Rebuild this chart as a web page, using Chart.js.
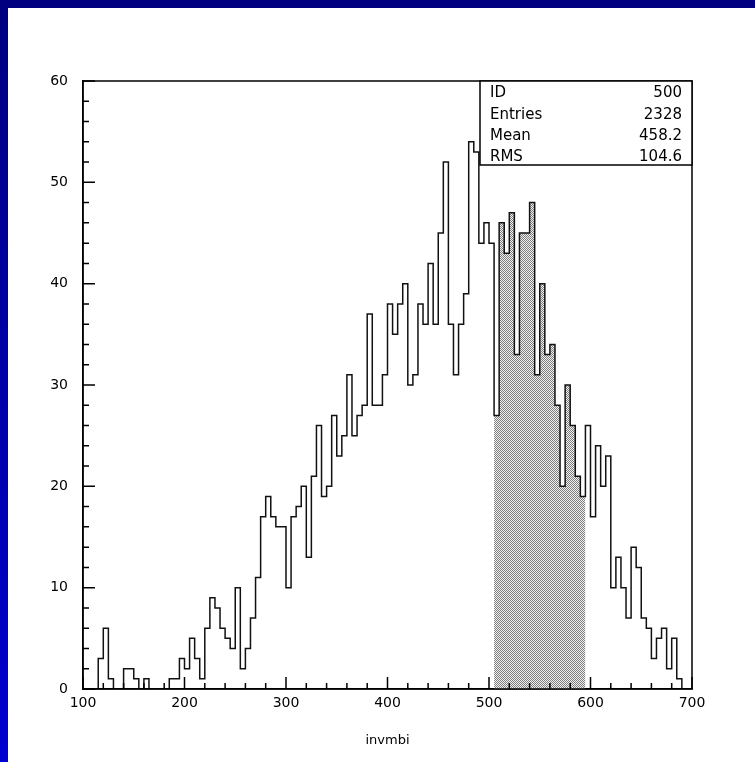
<!DOCTYPE html>
<html>
<head>
<meta charset="utf-8">
<script src="https://cdn.jsdelivr.net/npm/chart.js@4.4.0/dist/chart.umd.min.js"></script>
<style>
  html, body { margin: 0; padding: 0; background: #fff; }
  #wrap { width: 755px; height: 762px; position: relative; }
</style>
</head>
<body>
<div id="wrap"><canvas id="histo"></canvas></div>
<script>
// invmbi histogram, 120 bins of width 5 between 100 and 700
var binLow = 100;
var binHigh = 700;
var binWidth = 5;
var counts = [
  0, 0, 0, 3, 6, 1, 0, 0, 2, 2,
  1, 0, 1, 0, 0, 0, 0, 1, 1, 3,
  2, 5, 3, 1, 6, 9, 8, 6, 5, 4,
  10, 2, 4, 7, 11, 17, 19, 17, 16, 16,
  10, 17, 18, 20, 13, 21, 26, 19, 20, 27,
  23, 25, 31, 25, 27, 28, 37, 28, 28, 31,
  38, 35, 38, 40, 30, 31, 38, 36, 42, 36,
  45, 52, 36, 31, 36, 39, 54, 53, 44, 46,
  44, 27, 46, 43, 47, 33, 45, 45, 48, 31,
  40, 33, 34, 28, 20, 30, 26, 21, 19, 26,
  17, 24, 20, 23, 10, 13, 10, 7, 14, 12,
  7, 6, 3, 5, 6, 2, 5, 1, 0, 0
];
// shaded window
var shadeLow = 505;
var shadeHigh = 595;

var xTitle = "invmbi";
var statNames = ["ID", "Entries", "Mean", "RMS"];
var statValues = ["500", "2328", "458.2", "104.6"];

var FONT = "'DejaVu Sans', sans-serif";

// step outline points: left edge of each bin, closed down to zero at both ends
function stepPoints(lo, hi) {
  var pts = [{x: lo, y: 0}];
  var last = 0;
  for (var i = 0; i < counts.length; i++) {
    var x = binLow + i * binWidth;
    if (x < lo || x >= hi) continue;
    pts.push({x: x, y: counts[i]});
    last = counts[i];
  }
  pts.push({x: hi, y: last});
  pts.push({x: hi, y: 0});
  return pts;
}

// fine dot pattern for the shaded window
function dotPattern() {
  var c = document.createElement("canvas");
  c.width = 2; c.height = 2;
  var g = c.getContext("2d");
  g.fillStyle = "#f2f2f2";
  g.fillRect(0, 0, 2, 2);
  g.fillStyle = "#7c7c7c";
  g.fillRect(0, 0, 1, 1);
  g.fillRect(1, 1, 1, 1);
  return g.createPattern(c, "repeat");
}

var decor = {
  id: "decor",
  beforeDraw: function(chart) {
    var ctx = chart.ctx;
    ctx.save();
    ctx.fillStyle = "#ffffff";
    ctx.fillRect(0, 0, chart.width, chart.height);
    var grad = ctx.createLinearGradient(0, 0, 0, chart.height);
    grad.addColorStop(0, "#000080");
    grad.addColorStop(1, "#0000d0");
    ctx.fillStyle = grad;
    ctx.fillRect(0, 0, 8, chart.height);
    ctx.fillStyle = "#000080";
    ctx.fillRect(0, 0, chart.width, 8);
    ctx.restore();
  },
  afterDraw: function(chart) {
    var ctx = chart.ctx;
    var a = chart.chartArea;
    var xs = chart.scales.x, ys = chart.scales.y;
    ctx.save();
    ctx.strokeStyle = "#000";
    ctx.lineWidth = 1.5;
    ctx.beginPath();
    // inward tick marks
    for (var v = binLow; v <= binHigh; v += 20) {
      var px = xs.getPixelForValue(v);
      var len = (v % 100 === 0) ? 12 : 6;
      ctx.moveTo(px, a.bottom);
      ctx.lineTo(px, a.bottom - len);
    }
    for (var w = 0; w <= 60; w += 2) {
      var py = ys.getPixelForValue(w);
      var l2 = (w % 10 === 0) ? 12 : 6;
      ctx.moveTo(a.left, py);
      ctx.lineTo(a.left + l2, py);
    }
    ctx.stroke();
    ctx.strokeRect(a.left, a.top, a.right - a.left, a.bottom - a.top);

    // statistics box
    var bx = a.right - 212, by = a.top, bh = 84;
    ctx.fillStyle = "#fff";
    ctx.fillRect(bx, by, a.right - bx, bh);
    ctx.strokeRect(bx, by, a.right - bx, bh);
    ctx.fillStyle = "#000";
    ctx.font = "15px " + FONT;
    ctx.textBaseline = "middle";
    for (var i = 0; i < statNames.length; i++) {
      var ty = by + 12.5 + i * 21.2;
      ctx.textAlign = "left";
      ctx.fillText(statNames[i], bx + 10, ty);
      ctx.textAlign = "right";
      ctx.fillText(statValues[i], a.right - 10, ty);
    }
    ctx.restore();
  }
};

new Chart(document.getElementById("histo"), {
  type: "line",
  data: {
    datasets: [
      {
        label: "invmbi",
        data: stepPoints(binLow, binHigh),
        stepped: "before",
        borderColor: "#111",
        borderWidth: 1.5,
        pointRadius: 0,
        fill: false,
        order: 0
      },
      {
        label: "window",
        data: stepPoints(shadeLow, shadeHigh),
        stepped: "before",
        borderWidth: 0,
        borderColor: "rgba(0,0,0,0)",
        backgroundColor: dotPattern(),
        pointRadius: 0,
        fill: "origin",
        order: 1
      }
    ]
  },
  options: {
    responsive: true,
    maintainAspectRatio: false,
    animation: false,
    layout: { padding: { top: 81, right: 63, left: 0, bottom: 0 } },
    plugins: {
      legend: { display: false },
      tooltip: { enabled: false }
    },
    scales: {
      x: {
        type: "linear",
        min: binLow,
        max: binHigh,
        grid: { display: false, drawTicks: false },
        border: { display: true, color: "#000", width: 1.5 },
        ticks: {
          stepSize: 100,
          autoSkip: false,
          maxRotation: 0,
          color: "#000",
          padding: 6,
          font: { family: FONT, size: 14 }
        },
        title: {
          display: true,
          text: xTitle,
          color: "#000",
          font: { family: FONT, size: 13 },
          padding: { top: 0, bottom: 14 }
        },
        afterFit: function(s) { s.height = 73; }
      },
      y: {
        min: 0,
        max: 60,
        grid: { display: false, drawTicks: false },
        border: { display: true, color: "#000", width: 1.5 },
        ticks: {
          stepSize: 10,
          color: "#000",
          padding: 15,
          font: { family: FONT, size: 14 }
        },
        afterFit: function(s) { s.width = 83; }
      }
    }
  },
  plugins: [decor]
});
</script>
</body>
</html>
